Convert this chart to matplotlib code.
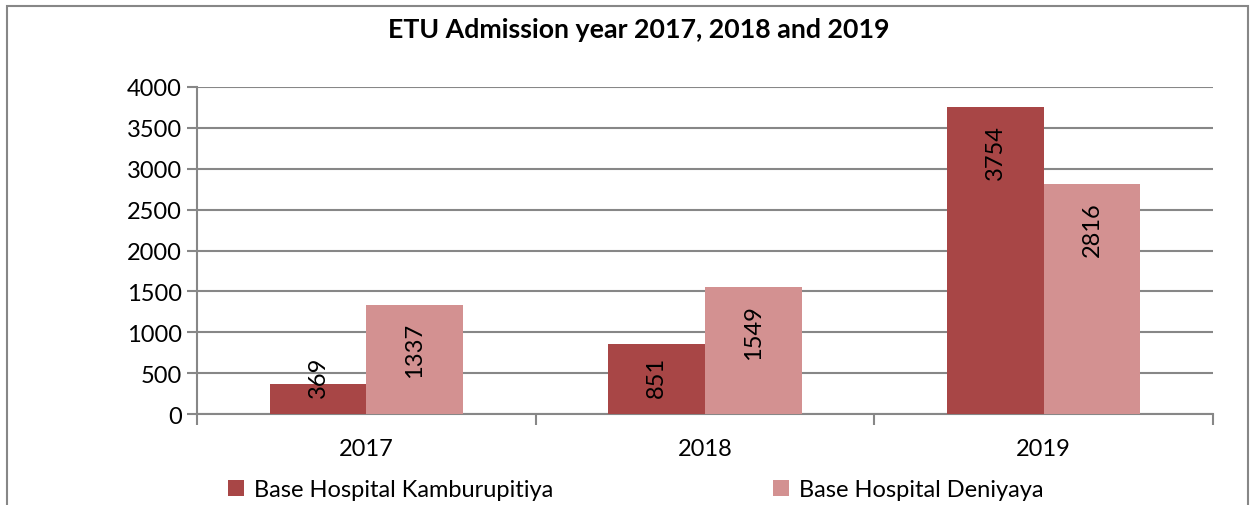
import numpy as np
import matplotlib.pyplot as plt
from matplotlib.patches import Rectangle

years = ['2017', '2018', '2019']
kamburupitiya = [369, 851, 3754]
deniyaya = [1337, 1549, 2816]
series_names = ['Base Hospital Kamburupitiya', 'Base Hospital Deniyaya']

plt.rcParams['font.family'] = ['Lato', 'DejaVu Sans']
grid_col = '#878787'
dark = '#A84646'
light = '#D39191'
fs = 17

fig = plt.figure(figsize=(12.53, 5.06), dpi=100)
ax = fig.add_axes([197/1253, 1-415/506, (1213-197)/1253, (415-88)/506])

x = np.arange(len(years))
w = 0.285
b1 = ax.bar(x - w/2, kamburupitiya, w, color=dark, zorder=3)
b2 = ax.bar(x + w/2, deniyaya, w, color=light, zorder=3)

ax.set_ylim(0, 4000)
ax.set_xlim(-0.5, 2.5)
ax.set_yticks(range(0, 4001, 500))
ax.yaxis.grid(True, color=grid_col, lw=1.5, zorder=0)
ax.set_xticks(x)
ax.set_xticklabels(years)
ax.set_xticks([-0.5, 0.5, 1.5, 2.5], minor=True)
ax.tick_params(axis='x', which='major', length=0, pad=17, labelsize=fs)
ax.tick_params(axis='x', which='minor', length=8, width=1.5, color=grid_col)
ax.tick_params(axis='y', length=7, width=1.5, color=grid_col, labelsize=fs, pad=4)
for s in ['top', 'right']:
    ax.spines[s].set_visible(False)
for s in ['left', 'bottom']:
    ax.spines[s].set_color(grid_col)
    ax.spines[s].set_linewidth(1.5)

# value labels, rotated, inside end of bar (pushed up when bar is short)
for bars, vals in [(b1, kamburupitiya), (b2, deniyaya)]:
    for r, v in zip(bars, vals):
        cx = r.get_x() + r.get_width()/2
        if v > 1000:
            ax.text(cx, v - 208, str(v), rotation=90, ha='center', va='top',
                    fontsize=fs, zorder=4)
        else:
            ax.text(cx, 208, str(v), rotation=90, ha='center', va='bottom',
                    fontsize=fs, zorder=4)

fig.suptitle('ETU Admission year 2017, 2018 and 2019', x=639/1253, y=1-30/506,
             fontsize=19.3, fontweight='bold', va='center')

fig.legend([b1, b2], series_names, ncol=2, loc='center',
           bbox_to_anchor=(636/1253, 1-491/506), frameon=False,
           fontsize=fs, handlelength=0.65, handleheight=0.65,
           handletextpad=0.45, columnspacing=9.3)

fig.add_artist(Rectangle((7/1253, -0.05), (1248-7)/1253, 1.05-7/506,
                         transform=fig.transFigure, fill=False,
                         edgecolor=grid_col, lw=1.5))

fig.savefig('out.png', dpi=100)
